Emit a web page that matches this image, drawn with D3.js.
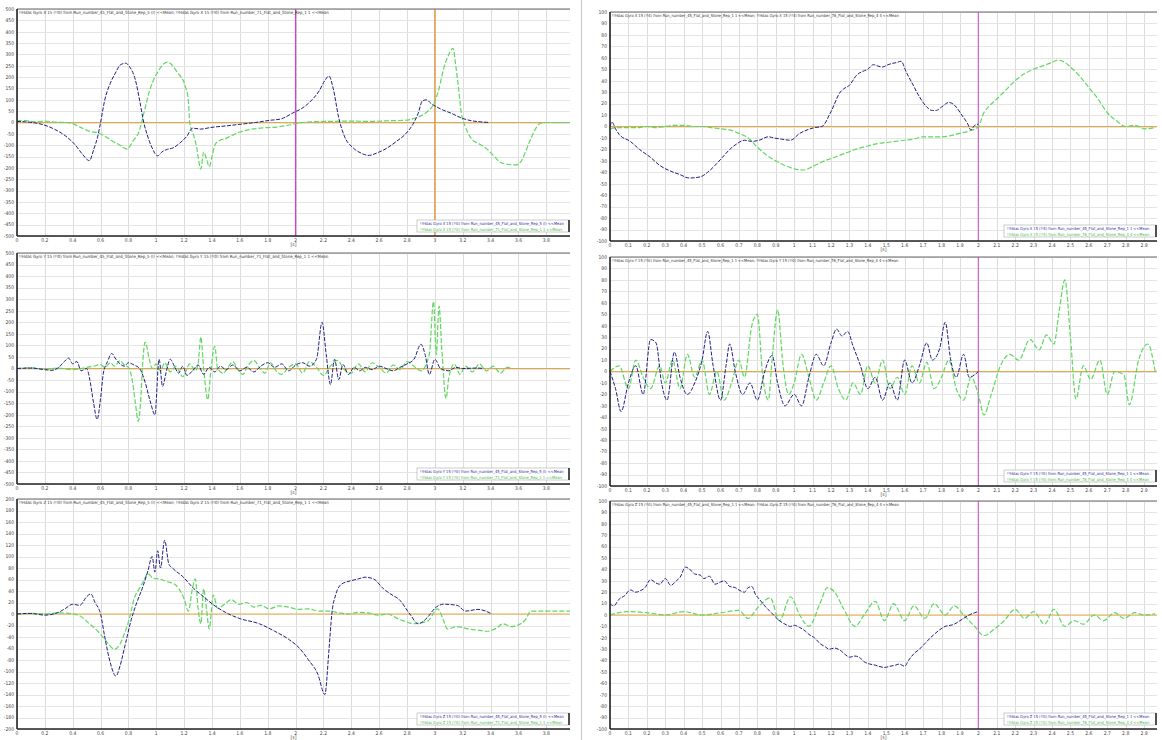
<!DOCTYPE html>
<html><head><meta charset="utf-8">
<script src="https://cdn.jsdelivr.net/npm/d3@7"></script>
<style>body{margin:0;background:#fff;} text{font-family:"DejaVu Sans Condensed","DejaVu Sans",sans-serif;}</style>
</head><body><svg id="c" width="1162" height="740"></svg>
<script>
// ---------- DATA (time [s], value) ----------
const leftXTicks = [0,0.2,0.4,0.6,0.8,1,1.2,1.4,1.6,1.8,2,2.2,2.4,2.6,2.8,3,3.2,3.4,3.6,3.8];
const rightXTicks = [0,0.1,0.2,0.3,0.4,0.5,0.6,0.7,0.8,0.9,1,1.1,1.2,1.3,1.4,1.5,1.6,1.7,1.8,1.9,2,2.1,2.2,2.3,2.4,2.5,2.6,2.7,2.8,2.9];

const gyroXLeftBlue = [[0,5],[0.06,3],[0.13,-2],[0.19,-10],[0.27,-30],[0.35,-60],[0.42,-100],[0.47,-140],[0.52,-168],[0.55,-120],[0.58,-60],[0.60,0],[0.63,99],[0.67,173],[0.71,222],[0.74,253],[0.78,261],[0.81,244],[0.85,187],[0.88,99],[0.91,0],[0.94,-64],[0.97,-112],[1.01,-147],[1.04,-130],[1.08,-118],[1.12,-112],[1.17,-90],[1.22,-60],[1.26,-25],[1.32,-29],[1.39,-22],[1.50,-15],[1.60,-8],[1.71,0],[1.82,10],[1.89,15],[1.96,35],[1.99,45],[2.04,60],[2.11,95],[2.17,140],[2.21,185],[2.24,205],[2.27,150],[2.31,20],[2.35,-60],[2.41,-110],[2.47,-135],[2.53,-145],[2.58,-135],[2.65,-115],[2.72,-85],[2.79,-50],[2.84,-10],[2.88,40],[2.91,95],[2.94,100],[2.97,85],[3.04,60],[3.12,40],[3.19,20],[3.26,8],[3.33,3],[3.39,0]];
const gyroXLeftGreen = [[0,5],[0.04,10],[0.07,8],[0.13,3],[0.20,6],[0.27,2],[0.35,0],[0.40,-5],[0.45,-20],[0.53,-40],[0.58,-45],[0.63,-60],[0.68,-80],[0.74,-100],[0.79,-117],[0.82,-95],[0.84,-75],[0.87,-50],[0.89,-10],[0.91,40],[0.96,156],[1.01,222],[1.08,266],[1.15,222],[1.21,156],[1.23,99],[1.24,0],[1.27,-60],[1.29,-110],[1.30,-150],[1.32,-205],[1.34,-130],[1.36,-160],[1.38,-195],[1.40,-150],[1.42,-100],[1.45,-80],[1.50,-70],[1.55,-55],[1.60,-42],[1.68,-30],[1.76,-24],[1.86,-20],[1.93,-14],[1.99,-6],[2.11,3],[2.25,5],[2.40,6],[2.54,5],[2.68,8],[2.79,10],[2.86,20],[2.94,45],[2.99,80],[3.03,150],[3.06,230],[3.10,300],[3.13,327],[3.15,250],[3.17,150],[3.19,40],[3.22,-20],[3.26,-70],[3.32,-95],[3.37,-115],[3.42,-145],[3.47,-175],[3.53,-185],[3.58,-187],[3.62,-170],[3.65,-130],[3.69,-70],[3.73,-20],[3.76,-3],[3.83,0],[3.97,0]];

const gyroYLeftBlue = [[0,0],[0.1,2],[0.2,-5],[0.25,-8],[0.3,5],[0.34,30],[0.37,45],[0.4,20],[0.43,30],[0.46,-10],[0.5,0],[0.52,-40],[0.55,-150],[0.575,-220],[0.6,-130],[0.62,-20],[0.65,30],[0.68,65],[0.71,40],[0.74,20],[0.77,10],[0.8,25],[0.84,15],[0.88,0],[0.92,-60],[0.96,-150],[0.99,-201],[1.02,40],[1.045,-78],[1.07,-18],[1.1,40],[1.13,10],[1.16,-20],[1.19,10],[1.22,-30],[1.26,-10],[1.3,15],[1.34,-25],[1.38,5],[1.42,-15],[1.46,10],[1.5,-5],[1.55,15],[1.6,-10],[1.65,5],[1.7,-15],[1.75,10],[1.8,25],[1.85,5],[1.9,20],[1.95,-10],[2.0,15],[2.05,25],[2.1,10],[2.15,40],[2.19,200],[2.22,60],[2.25,-70],[2.28,40],[2.31,-48],[2.34,17],[2.38,-26],[2.42,5],[2.46,-10],[2.5,5],[2.55,-5],[2.6,10],[2.65,0],[2.7,-10],[2.75,5],[2.8,20],[2.85,40],[2.9,105],[2.93,60],[2.96,-26],[3.0,40],[3.04,0],[3.1,-10],[3.15,5],[3.2,0],[3.3,2],[3.35,0]];
const gyroYLeftGreen = [[0,0],[0.1,3],[0.2,-3],[0.3,2],[0.4,-5],[0.5,5],[0.55,10],[0.6,17],[0.63,5],[0.67,25],[0.7,10],[0.74,35],[0.77,15],[0.8,5],[0.83,-60],[0.85,-150],[0.87,-228],[0.89,-120],[0.9,0],[0.92,114],[0.95,40],[0.97,0],[1.0,20],[1.03,-10],[1.06,25],[1.1,-15],[1.14,10],[1.19,-35],[1.24,20],[1.28,-10],[1.3,20],[1.32,136],[1.34,0],[1.37,-135],[1.39,-20],[1.42,96],[1.44,0],[1.48,-20],[1.52,10],[1.55,30],[1.58,0],[1.62,-25],[1.66,15],[1.7,35],[1.74,5],[1.78,-20],[1.82,25],[1.86,-10],[1.9,-25],[1.95,5],[2.0,20],[2.05,-20],[2.1,30],[2.15,5],[2.2,-30],[2.25,10],[2.3,35],[2.35,-5],[2.4,-20],[2.45,20],[2.5,-15],[2.55,25],[2.6,5],[2.65,-20],[2.7,15],[2.75,-5],[2.8,30],[2.85,10],[2.9,-10],[2.96,60],[2.99,290],[3.01,60],[3.03,270],[3.05,80],[3.08,-130],[3.1,-40],[3.14,20],[3.18,-25],[3.22,10],[3.27,-15],[3.32,20],[3.37,-10],[3.42,10],[3.47,-20],[3.52,5],[3.56,0]];

const gyroZLeftBlue = [[0,0],[0.1,1],[0.2,-2],[0.3,3],[0.35,10],[0.4,17],[0.45,15],[0.5,30],[0.53,35],[0.56,20],[0.6,0],[0.63,-40],[0.67,-85],[0.71,-108],[0.74,-90],[0.78,-50],[0.82,-10],[0.86,20],[0.9,45],[0.94,75],[0.97,100],[0.99,73],[1.01,110],[1.03,80],[1.06,128],[1.09,87],[1.12,79],[1.19,65],[1.27,44],[1.34,30],[1.41,16],[1.52,0],[1.6,-8],[1.74,-17],[1.85,-30],[1.95,-44],[2.03,-60],[2.09,-79],[2.16,-105],[2.21,-140],[2.24,-61],[2.26,0],[2.29,35],[2.33,52],[2.4,58],[2.45,61],[2.5,64],[2.56,61],[2.63,44],[2.7,32],[2.74,26],[2.82,0],[2.88,-17],[2.95,-5],[3.0,10],[3.06,17],[3.16,15],[3.22,5],[3.31,8],[3.41,0]];
const gyroZLeftGreen = [[0,0],[0.1,1],[0.2,0],[0.3,2],[0.4,0],[0.45,-3],[0.52,-17],[0.58,-30],[0.63,-44],[0.7,-61],[0.74,-52],[0.77,-35],[0.81,-5],[0.84,26],[0.88,45],[0.91,58],[0.94,70],[0.98,62],[1.02,61],[1.08,56],[1.13,52],[1.2,26],[1.23,5],[1.26,45],[1.28,61],[1.3,10],[1.32,-17],[1.34,44],[1.36,10],[1.38,-26],[1.41,33],[1.44,10],[1.49,17],[1.54,25],[1.59,17],[1.65,20],[1.7,12],[1.75,15],[1.81,9],[1.88,14],[1.95,12],[2.02,8],[2.09,9],[2.17,5],[2.24,5],[2.31,2],[2.38,0],[2.45,3],[2.52,2],[2.59,-2],[2.66,0],[2.74,-9],[2.8,-14],[2.84,-17],[2.9,-15],[2.95,-12],[3.02,9],[3.06,-10],[3.09,-26],[3.16,-22],[3.24,-26],[3.31,-28],[3.38,-30],[3.44,-25],[3.49,-17],[3.55,-22],[3.59,-20],[3.65,-10],[3.69,5],[3.8,5],[3.97,5]];

const gyroXRightBlue = [[0,0],[0.01,4],[0.03,-2],[0.05,-7],[0.11,-13],[0.16,-20],[0.22,-27],[0.27,-34],[0.33,-39],[0.38,-42],[0.43,-45],[0.49,-44],[0.53,-40],[0.57,-34],[0.61,-27],[0.65,-20],[0.69,-15],[0.73,-12],[0.77,-13],[0.81,-12],[0.86,-9],[0.89,-10],[0.93,-11],[0.98,-12],[1.03,-6],[1.07,-3],[1.11,-1],[1.15,0],[1.2,13],[1.25,30],[1.27,33],[1.3,36],[1.34,45],[1.37,48],[1.4,50],[1.43,54],[1.45,53],[1.48,52],[1.51,54],[1.53,55],[1.56,56],[1.58,57],[1.61,47],[1.64,38],[1.68,26],[1.72,17],[1.75,14],[1.77,14],[1.8,17],[1.84,21],[1.88,17],[1.91,10],[1.94,3],[1.96,-3],[1.98,1],[2.0,2]];
const gyroXRightGreen = [[0,-2],[0.05,-1],[0.1,-1],[0.15,-1],[0.2,0],[0.25,-1],[0.3,0],[0.35,1],[0.4,1],[0.45,0],[0.5,0],[0.55,-1],[0.6,-2],[0.65,-3],[0.7,-6],[0.75,-10],[0.8,-18],[0.85,-25],[0.9,-30],[0.95,-34],[1.0,-37],[1.05,-38],[1.1,-35],[1.15,-31],[1.2,-28],[1.25,-25],[1.3,-22],[1.35,-19],[1.4,-17],[1.45,-15],[1.5,-14],[1.55,-13],[1.6,-12],[1.65,-11],[1.7,-9],[1.75,-9],[1.8,-9],[1.85,-8],[1.9,-6],[1.95,-4],[2.0,0],[2.03,12],[2.06,18],[2.1,24],[2.15,32],[2.2,40],[2.25,46],[2.3,50],[2.35,53],[2.4,56],[2.43,58],[2.47,56],[2.5,52],[2.55,44],[2.6,34],[2.65,24],[2.7,12],[2.75,5],[2.8,0],[2.85,1],[2.9,-2],[2.96,-1]];

const gyroYRightBlue = [[0,0],[0.03,-15],[0.06,-35],[0.1,-10],[0.14,5],[0.18,-20],[0.22,28],[0.25,25],[0.28,-10],[0.31,-25],[0.35,17],[0.38,-5],[0.42,-20],[0.46,-10],[0.5,10],[0.53,35],[0.56,5],[0.6,-25],[0.63,5],[0.65,24],[0.68,0],[0.72,-20],[0.76,-10],[0.8,-25],[0.84,0],[0.88,14],[0.91,-10],[0.95,-30],[1.0,-20],[1.04,-30],[1.08,-5],[1.12,15],[1.16,5],[1.2,25],[1.23,37],[1.26,31],[1.29,35],[1.32,22],[1.36,5],[1.4,-15],[1.44,-5],[1.48,-25],[1.52,-10],[1.56,-25],[1.6,10],[1.64,-10],[1.68,5],[1.72,25],[1.75,10],[1.79,20],[1.82,43],[1.85,10],[1.88,-5],[1.92,15],[1.95,-5],[2.0,0]];
const gyroYRightGreen = [[0,0],[0.05,5],[0.1,-15],[0.14,10],[0.18,-5],[0.22,-15],[0.27,5],[0.3,-10],[0.34,10],[0.38,-15],[0.42,15],[0.46,-5],[0.5,10],[0.54,-20],[0.58,0],[0.62,-25],[0.66,-10],[0.7,10],[0.73,-5],[0.77,40],[0.8,50],[0.83,-5],[0.86,-25],[0.88,10],[0.91,54],[0.94,5],[0.97,-20],[1.0,-10],[1.04,15],[1.08,-5],[1.12,-25],[1.16,-10],[1.2,5],[1.24,-15],[1.28,-25],[1.32,-10],[1.36,-20],[1.4,5],[1.44,-10],[1.48,10],[1.52,-15],[1.56,-5],[1.6,-20],[1.64,5],[1.68,-10],[1.72,8],[1.76,-15],[1.8,-5],[1.84,10],[1.88,-15],[1.92,-25],[1.96,-5],[2.0,-20],[2.03,-38],[2.07,-20],[2.12,5],[2.17,15],[2.22,10],[2.28,28],[2.33,19],[2.37,32],[2.41,24],[2.44,54],[2.47,80],[2.5,30],[2.53,-24],[2.57,5],[2.61,-7],[2.66,10],[2.7,-20],[2.74,0],[2.79,-3],[2.82,-29],[2.87,10],[2.92,24],[2.96,0]];

const gyroZRightBlue = [[0,10],[0.02,8],[0.05,14],[0.08,17],[0.11,22],[0.14,20],[0.16,21],[0.19,24],[0.22,31],[0.25,28],[0.27,27],[0.3,32],[0.33,26],[0.36,30],[0.38,33],[0.41,42],[0.44,39],[0.46,36],[0.49,35],[0.51,32],[0.54,34],[0.57,27],[0.6,29],[0.62,30],[0.65,25],[0.68,24],[0.7,22],[0.73,20],[0.75,24],[0.77,25],[0.79,18],[0.81,14],[0.84,8],[0.87,3],[0.9,-2],[0.92,-5],[0.95,-8],[0.98,-10],[1.0,-9],[1.03,-11],[1.06,-14],[1.08,-17],[1.11,-20],[1.14,-25],[1.17,-28],[1.19,-30],[1.22,-29],[1.25,-31],[1.28,-35],[1.3,-37],[1.33,-36],[1.36,-38],[1.38,-41],[1.41,-43],[1.44,-44],[1.46,-45],[1.49,-46],[1.52,-45],[1.55,-44],[1.57,-43],[1.6,-45],[1.62,-40],[1.65,-34],[1.68,-30],[1.71,-25],[1.74,-20],[1.76,-17],[1.79,-13],[1.82,-10],[1.85,-9],[1.87,-8],[1.9,-5],[1.92,-3],[1.95,0],[1.98,2],[2.0,3]];
const gyroZRightGreen = [[0,0],[0.1,3],[0.2,2],[0.3,0],[0.4,3],[0.5,0],[0.6,2],[0.7,4],[0.75,-3],[0.8,6],[0.87,15],[0.92,-5],[0.98,16],[1.03,0],[1.08,-10],[1.14,10],[1.18,24],[1.22,20],[1.27,5],[1.33,-10],[1.38,0],[1.44,12],[1.49,-5],[1.54,10],[1.6,-5],[1.65,8],[1.71,-3],[1.76,10],[1.82,0],[1.87,8],[1.92,0],[1.98,-10],[2.03,-18],[2.09,-12],[2.14,-5],[2.2,5],[2.25,-3],[2.3,3],[2.36,-8],[2.41,5],[2.47,-10],[2.52,-5],[2.57,-8],[2.63,0],[2.68,-5],[2.74,2],[2.79,-3],[2.85,2],[2.9,0],[2.96,1]];

const titles = [
 "!!Hdas Gyro X 15 (!!0) from Run_number_45_Flat_and_Stone_Rep_5 (I) <<Mean; !!Hdas Gyro X 15 (!!0) from Run_number_71_Flat_and_Stone_Rep_1 1 <<Mean",
 "!!Hdas Gyro X 15 (!!4) from Run_number_45_Flat_and_Stone_Rep_1 1 <<Mean; !!Hdas Gyro X 15 (!!4) from Run_number_76_Flat_and_Stone_Rep_4 4 <<Mean",
 "!!Hdas Gyro Y 15 (!!0) from Run_number_45_Flat_and_Stone_Rep_5 (I) <<Mean; !!Hdas Gyro Y 15 (!!0) from Run_number_71_Flat_and_Stone_Rep_1 1 <<Mean",
 "!!Hdas Gyro Y 15 (!!0) from Run_number_45_Flat_and_Stone_Rep_1 1 <<Mean; !!Hdas Gyro Y 15 (!!0) from Run_number_76_Flat_and_Stone_Rep_4 4 <<Mean",
 "!!Hdas Gyro Z 15 (!!0) from Run_number_45_Flat_and_Stone_Rep_5 (I) <<Mean; !!Hdas Gyro Z 15 (!!0) from Run_number_71_Flat_and_Stone_Rep_1 1 <<Mean",
 "!!Hdas Gyro Z 15 (!!0) from Run_number_45_Flat_and_Stone_Rep_1 1 <<Mean; !!Hdas Gyro Z 15 (!!0) from Run_number_76_Flat_and_Stone_Rep_4 4 <<Mean"
];
const legendBlue = [
 "!!Hdas Gyro X 15 (!!0) from Run_number_45_Flat_and_Stone_Rep_5 (I) <<Mean",
 "!!Hdas Gyro X 15 (!!4) from Run_number_45_Flat_and_Stone_Rep_1 1 <<Mean",
 "!!Hdas Gyro Y 15 (!!0) from Run_number_45_Flat_and_Stone_Rep_5 (I) <<Mean",
 "!!Hdas Gyro Y 15 (!!0) from Run_number_45_Flat_and_Stone_Rep_1 1 <<Mean",
 "!!Hdas Gyro Z 15 (!!0) from Run_number_45_Flat_and_Stone_Rep_5 (I) <<Mean",
 "!!Hdas Gyro Z 15 (!!0) from Run_number_45_Flat_and_Stone_Rep_1 1 <<Mean"
];
const legendGreen = [
 "!!Hdas Gyro X 15 (!!0) from Run_number_71_Flat_and_Stone_Rep_1 1 <<Mean",
 "!!Hdas Gyro X 15 (!!4) from Run_number_76_Flat_and_Stone_Rep_4 4 <<Mean",
 "!!Hdas Gyro Y 15 (!!0) from Run_number_71_Flat_and_Stone_Rep_1 1 <<Mean",
 "!!Hdas Gyro Y 15 (!!0) from Run_number_76_Flat_and_Stone_Rep_4 4 <<Mean",
 "!!Hdas Gyro Z 15 (!!0) from Run_number_71_Flat_and_Stone_Rep_1 1 <<Mean",
 "!!Hdas Gyro Z 15 (!!0) from Run_number_76_Flat_and_Stone_Rep_4 4 <<Mean"
];
const yLimits = [500, 100, 500, 100, 200, 100];
const yStepsV = [50, 10, 50, 10, 20, 10];
const cursorTimes = [[2.0, 3.0], [2.0], [], [2.0], [], [2.0]];

// ---------- LAYOUT ----------
const boxes = [
 {x0:17, x1:570, y0:9,   y1:236, xMax:3.97, ticks:leftXTicks, titleW:310},
 {x0:610,x1:1157,y0:12,  y1:241, xMax:2.97, ticks:rightXTicks, titleW:288},
 {x0:17, x1:570, y0:253, y1:484, xMax:3.97, ticks:leftXTicks, titleW:310},
 {x0:610,x1:1157,y0:257, y1:486, xMax:2.97, ticks:rightXTicks, titleW:288},
 {x0:17, x1:570, y0:499, y1:729, xMax:3.97, ticks:leftXTicks, titleW:310},
 {x0:610,x1:1157,y0:501, y1:729, xMax:2.97, ticks:rightXTicks, titleW:288}
];
const seriesBlue = [gyroXLeftBlue, gyroXRightBlue, gyroYLeftBlue, gyroYRightBlue, gyroZLeftBlue, gyroZRightBlue];
const seriesGreen = [gyroXLeftGreen, gyroXRightGreen, gyroYLeftGreen, gyroYRightGreen, gyroZLeftGreen, gyroZRightGreen];
const cursorColors = ["#cc44cc", "#e8902a"];

const svg = d3.select("#c");
svg.append("rect").attr("width",1162).attr("height",740).attr("fill","#fff");
svg.append("line").attr("x1",581.5).attr("x2",581.5).attr("y1",0).attr("y2",740).attr("stroke","#c8c8c8");

const fmt = v => String(+v.toFixed(1));

// shrink a text's font size until its natural width fits maxW
function fitText(sel, maxW, startSize) {
  let s = startSize;
  sel.attr("font-size", s);
  while (sel.node().getComputedTextLength() > maxW && s > 2) {
    s -= 0.1;
    sel.attr("font-size", s.toFixed(2));
  }
}

boxes.forEach((b, i) => {
  const g = svg.append("g");
  const x = d3.scaleLinear().domain([0, b.xMax]).range([b.x0, b.x1]);
  const lim = yLimits[i];
  const y = d3.scaleLinear().domain([-lim, lim]).range([b.y1, b.y0]);
  const yTicks = d3.range(-lim, lim + 0.001, yStepsV[i]);

  // grid
  g.append("g").selectAll("line").data(b.ticks).join("line")
    .attr("x1", d => Math.round(x(d))+0.5).attr("x2", d => Math.round(x(d))+0.5)
    .attr("y1", b.y0).attr("y2", b.y1).attr("stroke", "#dcdcdc").attr("stroke-width", 1);
  g.append("g").selectAll("line").data(yTicks).join("line")
    .attr("x1", b.x0).attr("x2", b.x1)
    .attr("y1", d => Math.round(y(d))+0.5).attr("y2", d => Math.round(y(d))+0.5)
    .attr("stroke", "#e4e4e4").attr("stroke-width", 1);

  // y tick labels
  g.append("g").selectAll("text").data(yTicks).join("text")
    .attr("x", b.x0 - 3).attr("y", d => y(d) + 1.8)
    .attr("text-anchor", "end").attr("font-size", 5).attr("fill", "#444")
    .text(d => d);
  // x tick labels
  g.append("g").selectAll("text").data(b.ticks).join("text")
    .attr("x", d => x(d)).attr("y", b.y1 + 5.5)
    .attr("text-anchor", "middle").attr("font-size", 5).attr("fill", "#444")
    .text(fmt);
  g.append("text").attr("x", (b.x0 + b.x1) / 2).attr("y", b.y1 + 10)
    .attr("text-anchor", "middle").attr("font-size", 5).attr("fill", "#444").text("[s]");

  // zero line
  g.append("line").attr("x1", b.x0).attr("x2", b.x1).attr("y1", y(0)).attr("y2", y(0))
    .attr("stroke", "#e6a845").attr("stroke-width", 1);

  // cursors
  cursorTimes[i].forEach((t, k) => {
    g.append("line").attr("x1", x(t)).attr("x2", x(t)).attr("y1", b.y0).attr("y2", b.y1)
      .attr("stroke", cursorColors[k]).attr("stroke-width", 1.3).attr("opacity", i === 0 ? 1 : 0.75);
  });

  const line = d3.line().x(d => x(d[0])).y(d => y(d[1])).curve(d3.curveMonotoneX);
  g.append("path").attr("d", line(seriesGreen[i])).attr("fill", "none")
    .attr("stroke", "#5fd85f").attr("stroke-width", 1.2).attr("stroke-dasharray", "5,2");
  g.append("path").attr("d", line(seriesBlue[i])).attr("fill", "none")
    .attr("stroke", "#1f1f86").attr("stroke-width", 1).attr("stroke-dasharray", "4,1.5");

  // frame: top, left, bottom
  g.append("line").attr("x1", b.x0).attr("x2", b.x1).attr("y1", b.y0).attr("y2", b.y0).attr("stroke", "#666").attr("stroke-width", 1);
  g.append("line").attr("x1", b.x0).attr("x2", b.x0).attr("y1", b.y0).attr("y2", b.y1).attr("stroke", "#222").attr("stroke-width", 1.6);
  g.append("line").attr("x1", b.x0).attr("x2", b.x1).attr("y1", b.y1).attr("y2", b.y1).attr("stroke", "#222").attr("stroke-width", 1.6);

  // title
  const tt = g.append("text").attr("x", b.x0 + 2).attr("y", b.y0 + 5).attr("fill", "#333").text(titles[i]);
  fitText(tt, b.titleW, 5);

  // legend
  const lw = 152, lh = 12, lx = b.x1 - lw - 1, ly = b.y1 - lh - 4;
  g.append("rect").attr("x", lx).attr("y", ly).attr("width", lw).attr("height", lh)
    .attr("fill", "#fff").attr("stroke", "#aaa").attr("stroke-width", 0.6);
  g.append("line").attr("x1", lx + lw).attr("x2", lx + lw).attr("y1", ly).attr("y2", ly + lh).attr("stroke", "#111").attr("stroke-width", 1.4);
  const t1 = g.append("text").attr("x", lx + 3).attr("y", ly + 5).attr("fill", "#2a2a9a").text(legendBlue[i]);
  fitText(t1, lw - 8, 4.6);
  const t2 = g.append("text").attr("x", lx + 3).attr("y", ly + 10.5).attr("fill", "#44bb44").text(legendGreen[i]);
  fitText(t2, lw - 8, 4.6);
});
</script></body></html>
